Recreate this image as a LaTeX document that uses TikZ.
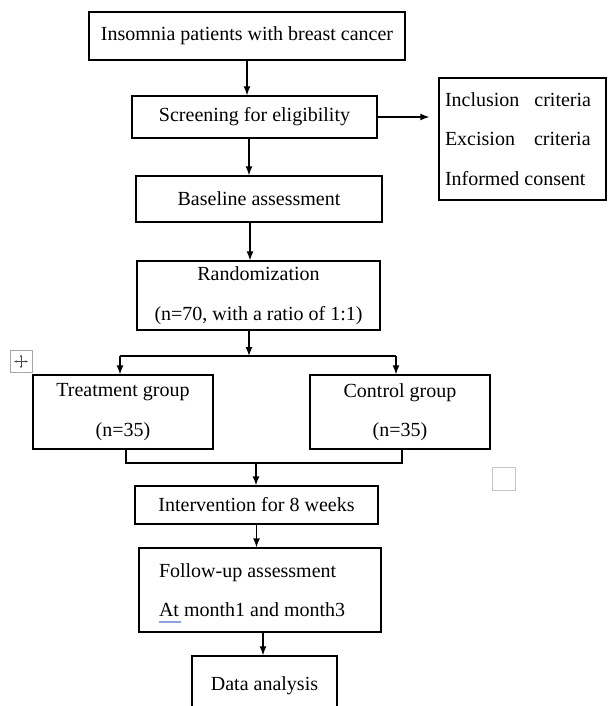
\documentclass[tikz,border=0pt]{standalone}
\usepackage{fontspec}
\setmainfont{Liberation Serif}
\usepackage{tikz}
\usetikzlibrary{arrows.meta,calc}
\definecolor{spell}{RGB}{140,165,220}

\begin{document}
\begin{tikzpicture}[x=1pt,y=-1pt,>={Latex[length=9pt,width=7pt]},
  every node/.style={font=\fontsize{20}{39.5}\selectfont},
  box/.style={draw,line width=1.3pt,inner sep=0pt,align=center},
  link/.style={line width=1.3pt}]
\useasboundingbox (0,0) rectangle (608,706);
\clip (0,0) rectangle (608,706);
\node[box,minimum width=316pt,minimum height=48pt] (1) at (247,36) {Insomnia patients with breast cancer};
\node[box,minimum width=245pt,minimum height=42pt] (2) at (254.5,117) {Screening for eligibility};
\node[box,minimum width=167pt,minimum height=122pt,align=flush left,text width=155pt,inner xsep=6pt] (3) at (522.5,139) {Inclusion\hspace{15pt}criteria\\Excision\hspace{19pt}criteria\\Informed consent};
\node[box,minimum width=246pt,minimum height=46pt] (4) at (259,199) {Baseline assessment};
\node[box,minimum width=243pt,minimum height=69pt] (5) at (258.5,295.5) {Randomization\\(n=70, with a ratio of 1:1)};
\node[box,minimum width=180pt,minimum height=74pt] (6) at (123,412) {Treatment group\\(n=35)};
\node[box,minimum width=180pt,minimum height=74pt] (7) at (400,412) {Control group\\(n=35)};
\node[box,minimum width=243pt,minimum height=38pt] (8) at (256.5,505) {Intervention for 8 weeks};
\node[box,minimum width=242pt,minimum height=84pt,align=flush left,text width=202pt,inner xsep=20pt] (9) at (260,590) {Follow-up assessment\\At month1 and month3};
\node[box,minimum width=145pt,minimum height=60pt] (10) at (264.5,686) {Data analysis};
\node[draw=gray!70,line width=0.8pt,minimum size=22pt,inner sep=0pt] (h) at (21,361.5) {};
\node[draw=gray!45,line width=1pt,minimum size=23pt,inner sep=0pt] (q) at (503.5,478.5) {};
\coordinate (m) at (249,356);
\coordinate (l) at (120,356);
\coordinate (r) at (396,356);
\coordinate (bl) at (126,463);
\coordinate (br) at (402,463);
\coordinate (bm) at (256,463);
\draw[link,->] (1.south) -- (1.south |- 2.north);
\draw[link,->,shorten >=9pt] (2.east) -- (2.east -| 3.west);
\draw[link,->] ([xshift=-5.5pt]2.south) -- ([xshift=-5.5pt]2.south |- 4.north);
\draw[link,->] ([xshift=-9pt]4.south) -- ([xshift=-9pt]4.south |- 5.north);
\draw[link,->] (5.south -| m) -- (m);
\draw[link] (l) -- (r);
\draw[link,->] (l) -- (l |- 6.north);
\draw[link,->] (r) -- (r |- 7.north);
\draw[link] (bl |- 6.south) -- (bl) -- (br) -- (br |- 7.south);
\draw[link,->] (bm) -- (bm |- 8.north);
\draw[link,->] (8.south) -- (8.south |- 9.north);
\draw[link,->] ([xshift=3pt]9.south) -- ([xshift=3pt]9.south |- 10.north);
\draw[gray!60!black,line width=0.6pt,{Stealth[length=3pt]}-{Stealth[length=3pt]}] ([xshift=-7pt]h.center) -- ([xshift=7pt]h.center);
\draw[gray!60!black,line width=0.6pt,{Stealth[length=3pt]}-{Stealth[length=3pt]}] ([yshift=-7pt]h.center) -- ([yshift=7pt]h.center);
\draw[spell,line width=2pt] (159,622) -- (181,622);
\end{tikzpicture}
\end{document}
